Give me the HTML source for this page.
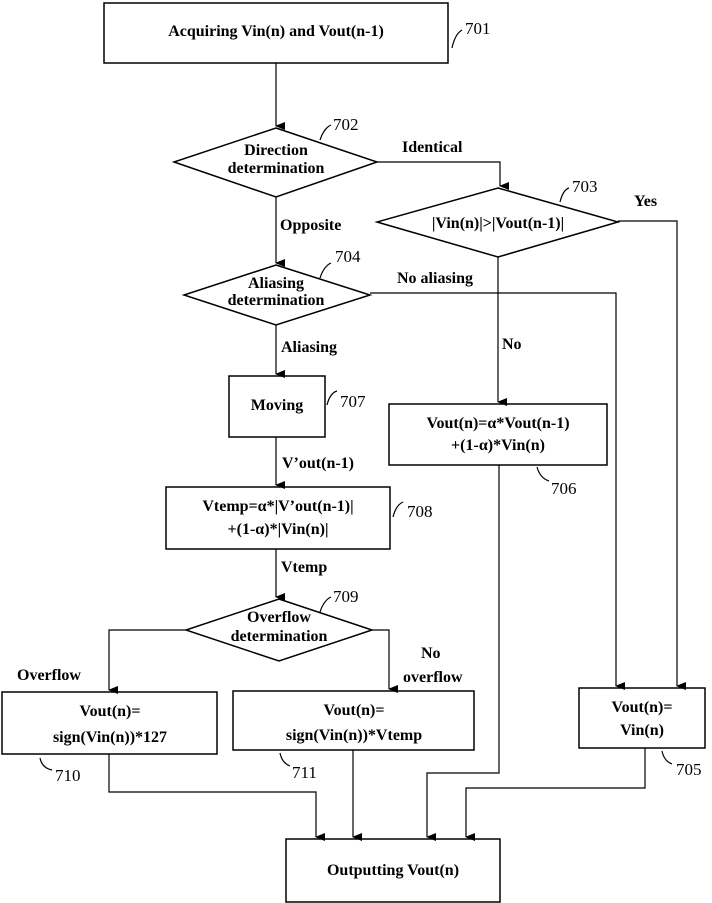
<!DOCTYPE html>
<html><head><meta charset="utf-8"><style>
html,body{margin:0;padding:0;background:#fff;}
svg{display:block;}
text{font-family:"Liberation Serif",serif;font-weight:bold;font-size:16px;fill:#000;}
.n{font-weight:normal;font-size:17px;}
</style></head><body>
<svg width="712" height="903" viewBox="0 0 712 903" xmlns="http://www.w3.org/2000/svg">
<defs><marker id="a" markerWidth="8" markerHeight="10" refX="4" refY="9" orient="auto-start-reverse" markerUnits="userSpaceOnUse"><path d="M0,0 L8,0 L4,10 Z" fill="#000"/></marker></defs>
<g fill="none" stroke="#000" stroke-width="1.5">
<rect x="104" y="3" width="344" height="60"/>
<polygon points="276,128 377,162 276,197 174,162"/>
<polygon points="498,188 618,222 498,257 377,222"/>
<polygon points="276,265 370,295 276,325 184,295"/>
<rect x="229" y="376" width="96" height="61"/>
<rect x="389" y="404" width="218" height="61"/>
<rect x="166" y="487" width="224" height="62"/>
<polygon points="279,599 372,630 279,661 186,630"/>
<rect x="2" y="692" width="215" height="62"/>
<rect x="233" y="691" width="241" height="59"/>
<rect x="579" y="688" width="126" height="60"/>
<rect x="286" y="839" width="214" height="63"/>
</g>
<g fill="none" stroke="#000" stroke-width="1.2">
<path d="M276,63 V126" marker-end="url(#a)"/>
<path d="M377,162 H500 V186" marker-end="url(#a)"/>
<path d="M618,221 H677 V686" marker-end="url(#a)"/>
<path d="M276,197 V263" marker-end="url(#a)"/>
<path d="M370,293 H616 V686" marker-end="url(#a)"/>
<path d="M498,257 V402" marker-end="url(#a)"/>
<path d="M276,325 V374" marker-end="url(#a)"/>
<path d="M276,437 V485" marker-end="url(#a)"/>
<path d="M276,549 V597" marker-end="url(#a)"/>
<path d="M186,630 H109 V690" marker-end="url(#a)"/>
<path d="M372,630 H389 V689" marker-end="url(#a)"/>
<path d="M109,754 V792 H316 V837" marker-end="url(#a)"/>
<path d="M353,750 V837" marker-end="url(#a)"/>
<path d="M499,465 V773 H427 V837" marker-end="url(#a)"/>
<path d="M645,748 V788 H466 V837" marker-end="url(#a)"/>
<path d="M452,48 Q455,34 462,30"/>
<path d="M320,140 Q324,128 331,125"/>
<path d="M560,202 Q563,190 569,188"/>
<path d="M320,278 Q324,266 331,263"/>
<path d="M327,405 Q330,393 337,391"/>
<path d="M537,467 Q540,478 549,481"/>
<path d="M393,517 Q396,505 403,502"/>
<path d="M320,612 Q324,600 331,597"/>
<path d="M40,758 Q42,768 52,770"/>
<path d="M280,753 Q282,763 290,766"/>
<path d="M662,751 Q664,761 672,764"/>
</g>
<text x="276" y="36" text-anchor="middle">Acquiring Vin(n) and Vout(n-1)</text>
<text x="276" y="155" text-anchor="middle">Direction</text>
<text x="276" y="173" text-anchor="middle">determination</text>
<text x="498" y="228" text-anchor="middle">|Vin(n)|&gt;|Vout(n-1)|</text>
<text x="276" y="288" text-anchor="middle">Aliasing</text>
<text x="276" y="305" text-anchor="middle">determination</text>
<text x="277" y="410" text-anchor="middle">Moving</text>
<text x="498" y="428" text-anchor="middle">Vout(n)=α*Vout(n-1)</text>
<text x="498" y="450" text-anchor="middle">+(1-α)*Vin(n)</text>
<text x="278" y="511" text-anchor="middle">Vtemp=α*|V’out(n-1)|</text>
<text x="278" y="534" text-anchor="middle">+(1-α)*|Vin(n)|</text>
<text x="279" y="622" text-anchor="middle">Overflow</text>
<text x="279" y="641" text-anchor="middle">determination</text>
<text x="110" y="716" text-anchor="middle">Vout(n)=</text>
<text x="110" y="742" text-anchor="middle">sign(Vin(n))*127</text>
<text x="354" y="715" text-anchor="middle">Vout(n)=</text>
<text x="354" y="740" text-anchor="middle">sign(Vin(n))*Vtemp</text>
<text x="642" y="712" text-anchor="middle">Vout(n)=</text>
<text x="642" y="735" text-anchor="middle">Vin(n)</text>
<text x="393" y="875" text-anchor="middle">Outputting Vout(n)</text>
<text x="402" y="152">Identical</text>
<text x="634" y="206">Yes</text>
<text x="280" y="230">Opposite</text>
<text x="397" y="283">No aliasing</text>
<text x="502" y="349">No</text>
<text x="281" y="352">Aliasing</text>
<text x="282" y="468">V’out(n-1)</text>
<text x="281" y="572">Vtemp</text>
<text x="17" y="680">Overflow</text>
<text x="421" y="658">No</text>
<text x="403" y="682">overflow</text>
<text x="465" y="34" class="n">701</text>
<text x="333" y="130" class="n">702</text>
<text x="572" y="192" class="n">703</text>
<text x="335" y="262" class="n">704</text>
<text x="340" y="407" class="n">707</text>
<text x="551" y="494" class="n">706</text>
<text x="407" y="517" class="n">708</text>
<text x="333" y="602" class="n">709</text>
<text x="55" y="781" class="n">710</text>
<text x="292" y="778" class="n">711</text>
<text x="676" y="775" class="n">705</text>
</svg>
</body></html>
